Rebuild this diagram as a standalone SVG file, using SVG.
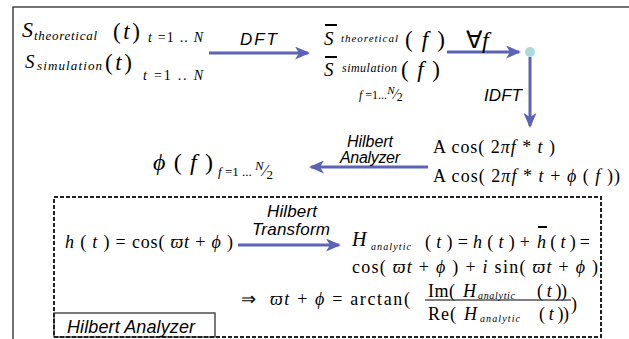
<svg xmlns="http://www.w3.org/2000/svg" width="629" height="339" viewBox="0 0 629 339">
<style>
.m{font-family:"Liberation Serif",serif;fill:#000}
.i{font-style:italic}
.l{font-family:"Liberation Sans",sans-serif;font-style:italic;fill:#000}
.arr{stroke:#5a63b5;stroke-width:3;fill:none}
.ol{stroke:#000;stroke-width:2}
</style>
<defs>
<marker id="ah" markerWidth="15" markerHeight="13" refX="13" refY="6.5" orient="auto" markerUnits="userSpaceOnUse">
<path d="M0,0 L15,6.5 L0,13 L4,6.5 z" fill="#5a63b5"/>
</marker>
</defs>
<rect width="629" height="339" fill="#fff"/>
<path d="M13,339 V7 H629" fill="none" stroke="#444" stroke-width="1.5"/>

<g id="connectors">
<line class="arr" x1="209" y1="53" x2="308" y2="53" marker-end="url(#ah)"/>
<text class="l" x="240" y="45" font-size="17" textLength="37">DFT</text>
<line class="arr" x1="447" y1="52" x2="519" y2="52" marker-end="url(#ah)"/>
<text class="m" x="466" y="48" font-size="24">∀<tspan class="i">f</tspan></text>
<line class="arr" x1="530" y1="57" x2="530" y2="126" marker-end="url(#ah)"/>
<text class="l" x="484" y="101" font-size="17" textLength="38">IDFT</text>
<line class="arr" x1="428" y1="167" x2="311" y2="167" marker-end="url(#ah)"/>
<text class="l" x="347" y="147" font-size="16" textLength="46">Hilbert</text>
<text class="l" x="340" y="163" font-size="16" textLength="60">Analyzer</text>
<line class="arr" x1="238" y1="245" x2="339" y2="245" marker-end="url(#ah)"/>
<text class="l" x="267" y="217" font-size="17" textLength="50">Hilbert</text>
<text class="l" x="252" y="235" font-size="17" textLength="78">Transform</text>
</g>

<g id="signals-time">
<text class="m i" x="22" y="37" font-size="22">S</text>
<text class="m i" x="34" y="40" font-size="13" textLength="63">theoretical</text>
<text class="m" x="113" y="39" font-size="23" textLength="27">(<tspan class="i">t</tspan>)</text>
<text class="m" x="148" y="42" font-size="14" textLength="55"><tspan class="i">t</tspan> =1 .. <tspan class="i">N</tspan></text>
<text class="m i" x="25" y="68" font-size="19">S</text>
<text class="m i" x="37" y="70" font-size="13" textLength="65">simulation</text>
<text class="m" x="105" y="70" font-size="23" textLength="27">(<tspan class="i">t</tspan>)</text>
<text class="m" x="143" y="80" font-size="14" textLength="60"><tspan class="i">t</tspan> =1 .. <tspan class="i">N</tspan></text>
</g>

<g id="signals-freq">
<line class="ol" x1="325" y1="25" x2="337" y2="25"/>
<text class="m i" x="324" y="45" font-size="19">S</text>
<text class="m i" x="341" y="42" font-size="11" textLength="57">theoretical</text>
<text class="m" x="405" y="47" font-size="23" textLength="40">( <tspan class="i">f</tspan> )</text>
<line class="ol" x1="325" y1="57" x2="337" y2="57"/>
<text class="m i" x="324" y="76" font-size="19">S</text>
<text class="m i" x="342" y="72" font-size="12" textLength="55">simulation</text>
<text class="m" x="401" y="77" font-size="23" textLength="39">( <tspan class="i">f</tspan> )</text>
<text class="m" x="359" y="99" font-size="12"><tspan class="i">f</tspan> =1...<tspan class="i" font-size="11" dy="-5">N</tspan><tspan dy="5" font-size="14">⁄</tspan><tspan dy="2">2</tspan></text>
</g>

<g id="junction">
<circle cx="530" cy="52" r="5" fill="#a9dbdd"/>
</g>

<g id="cos-signals">
<text class="m" x="433" y="153" font-size="18" textLength="122">A cos( 2<tspan class="i">πf</tspan> * <tspan class="i">t</tspan> )</text>
<text class="m" x="433" y="182" font-size="18" textLength="187">A cos( 2<tspan class="i">πf</tspan> * <tspan class="i">t</tspan> + <tspan class="i">ϕ</tspan> ( <tspan class="i">f</tspan> ))</text>
</g>

<g id="phase">
<text class="m" x="153" y="170" font-size="24" textLength="60"><tspan class="i">ϕ</tspan> ( <tspan class="i">f</tspan> )</text>
<text class="m" x="218" y="176" font-size="13"><tspan class="i">f</tspan> =1 ... <tspan class="i" dy="-6">N</tspan><tspan dy="6" font-size="17">⁄</tspan><tspan dy="3">2</tspan></text>
</g>

<g id="hilbert-analyzer">
<rect x="54" y="197" width="547" height="140" fill="none" stroke="#222" stroke-width="2" stroke-dasharray="4,2"/>
<rect x="54" y="313" width="161" height="24" fill="none" stroke="#222" stroke-width="1.2"/>
<text class="l" x="67" y="333" font-size="18" textLength="128">Hilbert Analyzer</text>
<text class="m" x="65" y="248" font-size="18" textLength="168"><tspan class="i">h</tspan> ( <tspan class="i">t</tspan> ) = cos( <tspan class="i">ϖt</tspan> + <tspan class="i">ϕ</tspan> )</text>
<text class="m i" x="352" y="246" font-size="20">H</text>
<text class="m i" x="371" y="250" font-size="10" textLength="40">analytic</text>
<text class="m" x="425" y="248" font-size="18" textLength="105">( <tspan class="i">t</tspan> ) = <tspan class="i">h</tspan> ( <tspan class="i">t</tspan> ) +</text>
<text class="m" x="537" y="248" font-size="18" textLength="53"><tspan class="i">h</tspan> ( <tspan class="i">t</tspan> ) =</text>
<line class="ol" x1="538" y1="227" x2="547" y2="227"/>
<text class="m" x="352" y="273" font-size="18" textLength="246">cos( <tspan class="i">ϖt</tspan> + <tspan class="i">ϕ</tspan> ) + <tspan class="i">i</tspan> sin( <tspan class="i">ϖt</tspan> + <tspan class="i">ϕ</tspan> )</text>
<text class="m" x="241" y="305" font-size="18">⇒</text>
<text class="m" x="270" y="305" font-size="18" textLength="140"><tspan class="i">ϖt</tspan> + <tspan class="i">ϕ</tspan> = arctan(</text>
<text class="m" x="428" y="297" font-size="18" textLength="27">Im(</text>
<text class="m i" x="463" y="297" font-size="18">H</text>
<text class="m i" x="478" y="299" font-size="10" textLength="37">analytic</text>
<text class="m" x="537" y="297" font-size="18" textLength="30">( <tspan class="i">t</tspan> ))</text>
<line x1="425" y1="300" x2="571" y2="300" stroke="#000" stroke-width="1"/>
<text class="m" x="428" y="320" font-size="18" textLength="28">Re(</text>
<text class="m i" x="464" y="320" font-size="18">H</text>
<text class="m i" x="480" y="322" font-size="10" textLength="40">analytic</text>
<text class="m" x="539" y="320" font-size="18" textLength="30">( <tspan class="i">t</tspan> ))</text>
<text class="m" x="571" y="310" font-size="18">)</text>
</g>
</svg>
